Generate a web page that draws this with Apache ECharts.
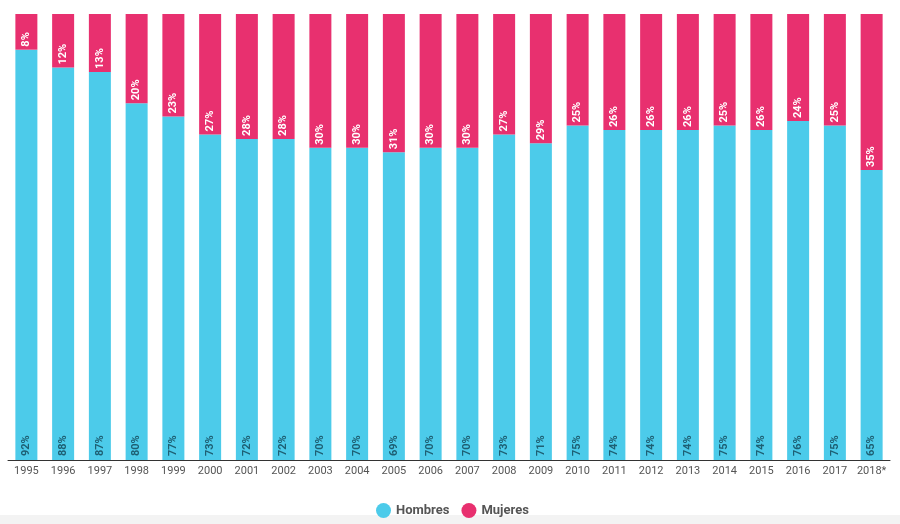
<!DOCTYPE html>
<html><head><meta charset="utf-8">
<script src="https://cdn.jsdelivr.net/npm/echarts@6/dist/echarts.min.js"></script>
<style>html,body{margin:0;padding:0;background:#fff}#c{width:900px;height:524px}</style>
</head><body><div id="c"></div>
<script>
const years = ['1995','1996','1997','1998','1999','2000','2001','2002','2003','2004','2005','2006','2007','2008','2009','2010','2011','2012','2013','2014','2015','2016','2017','2018*'];
const hombres = [92,88,87,80,77,73,72,72,70,70,69,70,70,73,71,75,74,74,74,75,74,76,75,65];
const mujeres = [8,12,13,20,23,27,28,28,30,30,31,30,30,27,29,25,26,26,26,25,26,24,25,35];

const chart = echarts.init(document.getElementById('c'));
chart.setOption({
  animation: false,
  backgroundColor: '#fff',
  graphic: [{type:'rect', left:0, top:515, shape:{width:900, height:9}, style:{fill:'#f3f3f3'}, silent:true}],
  grid: {left: 8, right: 10, top: 14, bottom: 64},
  legend: {
    bottom: 9, left: 'center', icon: 'circle', itemWidth: 15, itemHeight: 15, itemGap: 12,
    textStyle: {fontFamily: 'Roboto', fontWeight: 'bold', fontSize: 13, color: '#555'},
    data: ['Hombres','Mujeres']
  },
  xAxis: {
    type: 'category', data: years,
    axisLine: {lineStyle: {color: '#333', width: 1}},
    axisTick: {show: false},
    axisLabel: {interval: 0, fontFamily: 'Roboto', fontSize: 11, color: '#555', margin: 6}
  },
  yAxis: {type: 'value', min: 0, max: 100, show: false, splitLine: {show: false}},
  series: [
    {name: 'Hombres', type: 'bar', stack: 't', data: hombres, barWidth: 22,
     itemStyle: {color: '#4ccbea'},
     label: {show: true, position: 'insideBottom', rotate: 90, align: 'left', verticalAlign: 'middle', distance: 4,
       formatter: '{c}%', fontFamily: 'Roboto', fontSize: 11, fontWeight: 'bold', color: '#1e5f73'}},
    {name: 'Mujeres', type: 'bar', stack: 't', data: mujeres, barWidth: 22,
     itemStyle: {color: '#e8306f'},
     label: {show: true, position: 'insideBottom', rotate: 90, align: 'left', verticalAlign: 'middle', distance: 3,
       formatter: '{c}%', fontFamily: 'Roboto', fontSize: 11, fontWeight: 'bold', color: '#fff'}}
  ]
});
chart.setOption({legend: {bottom: 10, top: 498, left: 371}});
</script></body></html>
